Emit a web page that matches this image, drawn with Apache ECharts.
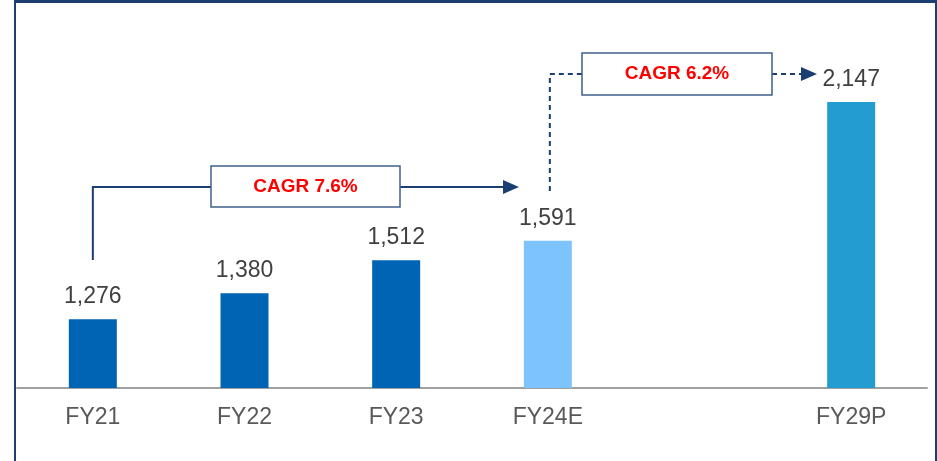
<!DOCTYPE html>
<html>
<head>
<meta charset="utf-8">
<title></title>
<script type="text/javascript" src="https://cdn.jsdelivr.net/npm/echarts@6/dist/echarts.min.js"></script>
</head>
<body style="margin:0;background:#fff;">
<div id="main" style="width:937px;height:461px;"></div>
<script type="text/javascript">
// data
var categories = ['FY21', 'FY22', 'FY23', 'FY24E', '', 'FY29P'];
var values = [1276, 1380, 1512, 1591, null, 2147];
var barColors = ['#0064b4', '#0064b4', '#0064b4', '#7dc4ff', '#0064b4', '#229cd1'];
var cagrTexts = ['CAGR 7.6%', 'CAGR 6.2%'];

var navy = '#1b3e73';
var font = '"Liberation Sans", Arial, sans-serif';

var chart = echarts.init(document.getElementById('main'));

var barData = [];
for (var i = 0; i < values.length; i++) {
  barData.push({ value: values[i], itemStyle: { color: barColors[i] } });
}

function fmt(v) {
  return String(v).replace(/\B(?=(\d{3})+(?!\d))/g, ',');
}

var option = {
  animation: false,
  backgroundColor: '#fff',
  grid: { left: 17, right: 10, top: 39, bottom: 73 },
  xAxis: {
    type: 'category',
    data: categories,
    axisLine: { lineStyle: { color: '#a0a0a0', width: 2 } },
    axisTick: { show: false },
    axisLabel: { color: '#595959', fontSize: 23, fontFamily: font, margin: 18 }
  },
  yAxis: {
    type: 'value',
    min: 1000,
    max: 2400,
    show: false,
    splitLine: { show: false }
  },
  series: [{
    type: 'bar',
    data: barData,
    barWidth: 48,
    label: {
      show: true,
      position: 'top',
      distance: 11,
      color: '#404040',
      fontSize: 23,
      fontFamily: font,
      formatter: function (p) { return fmt(p.value); }
    }
  }]
};
chart.setOption(option);

// annotation connectors, placed from the category centres
var cx0 = chart.convertToPixel({ xAxisIndex: 0 }, categories[0]);
var cx3 = chart.convertToPixel({ xAxisIndex: 0 }, categories[3]) + 2;

function box(x, y, w, h, txt) {
  return [
    { type: 'rect', shape: { x: x, y: y, width: w, height: h },
      style: { fill: '#fff', stroke: '#3f5f8a', lineWidth: 1.5 }, z: 10 },
    { type: 'text', x: x + w / 2, y: y + h / 2, z: 11,
      style: { text: txt, fill: '#ff0000', font: 'bold 19px ' + font,
               align: 'center', verticalAlign: 'middle' } }
  ];
}

var graphics = [
  // frame
  { type: 'rect', shape: { x: 14, y: 0, width: 923, height: 3 }, style: { fill: navy } },
  { type: 'rect', shape: { x: 14, y: 0, width: 2, height: 461 }, style: { fill: navy } },
  { type: 'rect', shape: { x: 935, y: 0, width: 2, height: 461 }, style: { fill: navy } },
  // CAGR 1
  { type: 'polyline', shape: { points: [[cx0, 260], [cx0, 187], [211, 187]] },
    style: { stroke: navy, lineWidth: 2, fill: null } },
  { type: 'line', shape: { x1: 400, y1: 187, x2: 505, y2: 187 },
    style: { stroke: navy, lineWidth: 2 } },
  { type: 'polygon', shape: { points: [[503, 180], [519, 187], [503, 194]] },
    style: { fill: navy } },
  // CAGR 2
  { type: 'polyline', shape: { points: [[cx3, 191], [cx3, 74], [582, 74]] },
    style: { stroke: navy, lineWidth: 2, fill: null, lineDash: [5, 4] } },
  { type: 'line', shape: { x1: 772, y1: 74, x2: 802, y2: 74 },
    style: { stroke: navy, lineWidth: 2, lineDash: [5, 4] } },
  { type: 'polygon', shape: { points: [[801, 67], [817, 74], [801, 81]] },
    style: { fill: navy } }
];
graphics = graphics.concat(box(211, 166, 189, 41, cagrTexts[0]));
graphics = graphics.concat(box(582, 53, 190, 42, cagrTexts[1]));

chart.setOption({ graphic: graphics });
</script>
</body>
</html>
